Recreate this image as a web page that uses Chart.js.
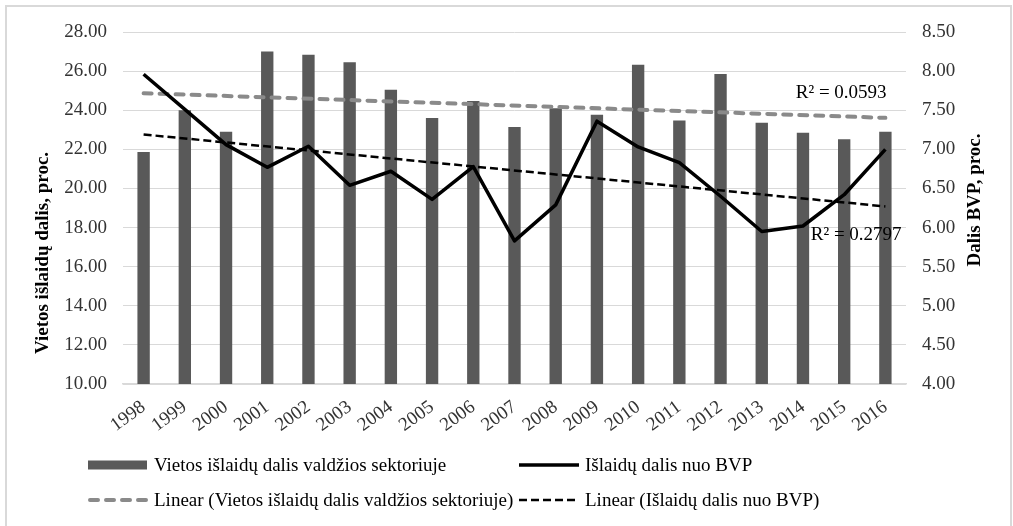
<!DOCTYPE html>
<html>
<head>
<meta charset="utf-8">
<script src="https://cdn.jsdelivr.net/npm/chart.js@4.4.1/dist/chart.umd.min.js"></script>
<style>
    html, body { margin: 0; padding: 0; background: #fff; }
    #wrap { position: relative; width: 1013px; height: 526px; overflow: hidden; }
    #frame { position: absolute; left: 5px; top: 5px; width: 1007px; height: 540px; border: 2px solid #d9d9d9; box-sizing: border-box; }
    #chart { position: absolute; left: 0; top: 0; }
    .leg { position: absolute; height: 22px; font: 19px 'Liberation Serif', 'Times New Roman', serif; color: #000; white-space: nowrap; line-height: 22px; }
    .leg svg { position: absolute; left: 0; top: 0; }
    .leg span { position: absolute; left: 66px; top: 0; }
</style>
</head>
<body>
<div id="wrap">
    <div id="frame"></div>
    <canvas id="chart" width="1013" height="526"></canvas>

    <div class="leg" style="left: 88px; top: 454px;">
        <svg width="60" height="22"><rect x="0" y="6.5" width="59" height="9" fill="#595959"/></svg>
        <span>Vietos išlaidų dalis valdžios sektoriuje</span>
    </div>
    <div class="leg" style="left: 519px; top: 454px;">
        <svg width="60" height="22"><line x1="0" y1="11" x2="60" y2="11" stroke="#000" stroke-width="3.5"/></svg>
        <span>Išlaidų dalis nuo BVP</span>
    </div>
    <div class="leg" style="left: 88px; top: 489px;">
        <svg width="60" height="22"><line x1="2" y1="11" x2="58" y2="11" stroke="#8a8a8a" stroke-width="4" stroke-linecap="round" stroke-dasharray="8 8"/></svg>
        <span>Linear (Vietos išlaidų dalis valdžios sektoriuje)</span>
    </div>
    <div class="leg" style="left: 519px; top: 489px;">
        <svg width="60" height="22"><line x1="0" y1="11" x2="60" y2="11" stroke="#000" stroke-width="2.5" stroke-dasharray="8 4"/></svg>
        <span>Linear (Išlaidų dalis nuo BVP)</span>
    </div>
</div>

<script>
const years = ['1998', '1999', '2000', '2001', '2002', '2003', '2004', '2005', '2006', '2007',
    '2008', '2009', '2010', '2011', '2012', '2013', '2014', '2015', '2016'];

// local spending share of government sector, % (left axis)
const localShare = [21.86, 24.00, 22.90, 27.00, 26.84, 26.45, 25.05, 23.60, 24.47, 23.14,
    24.10, 23.77, 26.32, 23.48, 25.85, 23.36, 22.85, 22.51, 22.90];

// spending share of GDP, % (right axis)
const gdpShare = [7.96, 7.51, 7.06, 6.77, 7.04, 6.54, 6.72, 6.36, 6.78, 5.83,
    6.29, 7.36, 7.03, 6.83, 6.40, 5.95, 6.02, 6.42, 7.00];

// Excel trendline ends (first and last year)
const localTrendEnds = [24.87, 23.61];
const gdpTrendEnds = [7.19, 6.27];

const r2Labels = ['R² = 0.0593', 'R² = 0.2797'];
const axisTitles = ['Vietos išlaidų dalis, proc.', 'Dalis BVP, proc.'];

const serif = "'Liberation Serif', 'Times New Roman', serif";
const gridColor = '#d9d9d9';
const tickColor = '#333333';

function trendSeries(ends) {
    return years.map((y, i) => (i === 0 ? ends[0] : i === years.length - 1 ? ends[1] : null));
}

// R² notes and the two axis titles (both read bottom-to-top, like Excel)
const notesPlugin = {
    id: 'notes',
    afterDatasetsDraw(chart) {
        const { ctx, scales } = chart;
        ctx.save();
        ctx.font = '19px ' + serif;
        ctx.fillStyle = '#000';
        ctx.textAlign = 'center';
        ctx.textBaseline = 'middle';
        ctx.fillText(r2Labels[0], scales.x.getPixelForValue(17) - 3, scales.y.getPixelForValue(24.88));
        ctx.fillText(r2Labels[1], scales.x.getPixelForValue(17) + 12, scales.y1.getPixelForValue(5.9));

        ctx.font = 'bold 19px ' + serif;
        [[axisTitles[0], 43, 253], [axisTitles[1], 975, 200]].forEach(([text, x, y]) => {
            ctx.save();
            ctx.translate(x, y);
            ctx.rotate(-Math.PI / 2);
            ctx.fillText(text, 0, 0);
            ctx.restore();
        });
        ctx.restore();
    },
};

new Chart(document.getElementById('chart'), {
    type: 'bar',
    data: {
        labels: years,
        datasets: [
            {
                label: 'Išlaidų dalis nuo BVP',
                type: 'line',
                data: gdpShare,
                yAxisID: 'y1',
                borderColor: '#000',
                borderWidth: 3.5,
                pointRadius: 0,
                tension: 0,
                borderJoinStyle: 'round',
                order: 1,
            },
            {
                label: 'Linear (Išlaidų dalis nuo BVP)',
                type: 'line',
                data: trendSeries(gdpTrendEnds),
                yAxisID: 'y1',
                borderColor: '#000',
                borderWidth: 2.5,
                borderDash: [8, 4],
                pointRadius: 0,
                spanGaps: true,
                order: 2,
            },
            {
                label: 'Linear (Vietos išlaidų dalis valdžios sektoriuje)',
                type: 'line',
                data: trendSeries(localTrendEnds),
                yAxisID: 'y',
                borderColor: '#8a8a8a',
                borderWidth: 4,
                borderDash: [8, 8],
                borderCapStyle: 'round',
                pointRadius: 0,
                spanGaps: true,
                order: 3,
            },
            {
                label: 'Vietos išlaidų dalis valdžios sektoriuje',
                data: localShare,
                yAxisID: 'y',
                backgroundColor: '#595959',
                barPercentage: 0.3,
                categoryPercentage: 1,
                order: 10,
            },
        ],
    },
    options: {
        responsive: false,
        animation: false,
        layout: { padding: { left: 0, right: 0, top: 32, bottom: 82 } },
        plugins: {
            legend: { display: false },
            tooltip: { enabled: false },
        },
        scales: {
            x: {
                grid: { display: false },
                border: { display: true, color: gridColor, width: 1.5 },
                ticks: {
                    color: tickColor,
                    font: { family: serif, size: 19 },
                    autoSkip: false,
                    minRotation: 36,
                    maxRotation: 36,
                    padding: 4,
                },
                afterFit: (scale) => { scale.height = 60; },
            },
            y: {
                position: 'left',
                min: 10,
                max: 28,
                grid: { color: gridColor, drawTicks: false },
                border: { display: false },
                ticks: {
                    stepSize: 2,
                    color: tickColor,
                    padding: 16,
                    font: { family: serif, size: 19 },
                    callback: (v) => v.toFixed(2),
                },
                afterFit: (scale) => { scale.width = 123; },
            },
            y1: {
                position: 'right',
                min: 4,
                max: 8.5,
                grid: { display: false, drawTicks: false },
                border: { display: false },
                ticks: {
                    stepSize: 0.5,
                    color: tickColor,
                    padding: 16,
                    font: { family: serif, size: 19 },
                    callback: (v) => v.toFixed(2),
                },
                afterFit: (scale) => { scale.width = 107; },
            },
        },
    },
    plugins: [notesPlugin],
});
</script>
</body>
</html>
